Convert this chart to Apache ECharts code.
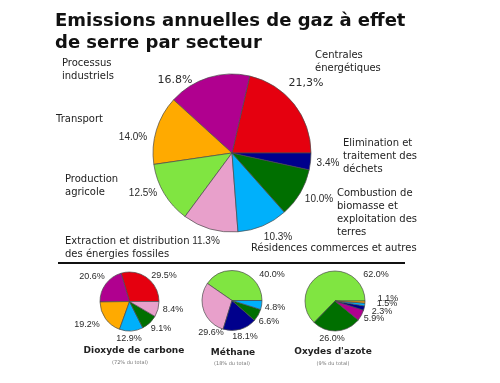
<!DOCTYPE html>
<html><head><meta charset="utf-8">
<script src="https://cdn.jsdelivr.net/npm/echarts@6.0.0/dist/echarts.min.js"></script>
<style>html,body{margin:0;padding:0;background:#fff}#c{width:500px;height:383px}</style>
</head><body><div id="c"></div>
<script>
// ---- data ----
const titleText = 'Emissions annuelles de gaz à effet\nde serre par secteur';
const sectors = ['Centrales énergétiques', 'Processus industriels', 'Transport', 'Production agricole',
  'Extraction et distribution des énergies fossiles', 'Résidences commerces et autres',
  'Combustion de biomasse et exploitation des terres', 'Elimination et traitement des déchets'];
const sectorValues = [21.3, 16.8, 14.0, 12.5, 11.3, 10.3, 10.0, 3.4];
const sectorLabels = ['21,3%', '16.8%', '14.0%', '12.5%', '11.3%', '10.3%', '10.0%', '3.4%'];
const sectorNameLines = ['Centrales\nénergétiques', 'Processus\nindustriels', 'Transport', 'Production\nagricole',
  'Extraction et distribution\ndes énergies fossiles', 'Résidences commerces et autres',
  'Combustion de\nbiomasse et\nexploitation des\nterres', 'Elimination et\ntraitement des\ndéchets'];

const co2Sectors = ['Centrales énergétiques', 'Processus industriels', 'Transport', 'Résidences commerces et autres',
  'Combustion de biomasse et exploitation des terres', 'Extraction et distribution des énergies fossiles'];
const co2Values = [29.5, 20.6, 19.2, 12.9, 9.1, 8.4];

const ch4Sectors = ['Production agricole', 'Extraction et distribution des énergies fossiles',
  'Elimination et traitement des déchets', 'Combustion de biomasse et exploitation des terres',
  'Résidences commerces et autres'];
const ch4Values = [40.0, 29.6, 18.1, 6.6, 4.8];

const n2oSectors = ['Production agricole', 'Combustion de biomasse et exploitation des terres',
  'Processus industriels', 'Elimination et traitement des déchets', 'Résidences commerces et autres', 'Transport'];
const n2oValues = [62.0, 26.0, 5.9, 2.3, 1.5, 1.1];

const gasNames = ['Dioxyde de carbone', 'Méthane', "Oxydes d'azote"];
const gasShares = ['(72% du total)', '(18% du total)', '(9% du total)'];

// ---- styles / layout ----
const sectorColors = {
  'Centrales énergétiques': '#e5000f',
  'Processus industriels': '#b0008f',
  'Transport': '#ffaa00',
  'Production agricole': '#80e541',
  'Extraction et distribution des énergies fossiles': '#e8a0cb',
  'Résidences commerces et autres': '#00b0fb',
  'Combustion de biomasse et exploitation des terres': '#006f00',
  'Elimination et traitement des déchets': '#00008c'
};
const mainLabelPos = [[306,83],[175,80],[133,137],[143,193],[206,241],[278,237],[319,199],[328,163]];
const mainNamePos = [[315,55],[62,63],[56,119],[65,179],[65,241],[251,248],[337,193],[343,143]];
const co2LabelPos = [[164,276],[92,277],[87,325],[129,339],[161,329],[173,310]];
const ch4LabelPos = [[272,275],[211,333],[245,337],[269,322],[275,308]];
const n2oLabelPos = [[376,275],[332,339],[374,319],[382,312],[387,304],[388,299]];
const gasTitlePos = [[134,351],[233,353],[333,352]];
const gasSubPos = [[130,363],[232,364],[333,364]];

const chart = echarts.init(document.getElementById('c'), null, {renderer: 'canvas'});

function fmtPct(v) { return v.toFixed(1) + '%'; }

function pieSeries(names, values, center, radius, labelPos, labelTexts, bigIdx) {
  return {
    type: 'pie',
    center: center,
    radius: radius,
    startAngle: 0,
    clockwise: false,
    avoidLabelOverlap: false,
    silent: true,
    animation: false,
    itemStyle: { borderColor: '#4a4a4a', borderWidth: 0.7 },
    labelLine: { show: false },
    label: {
      show: true,
      position: 'outside',
      color: '#2a2a2a',
      fontFamily: 'Liberation Sans',
      fontSize: radius > 50 ? 10 : 9
    },
    labelLayout: function (p) {
      const pos = labelPos[p.dataIndex];
      return { x: pos[0], y: pos[1], align: 'center', verticalAlign: 'middle' };
    },
    data: names.map(function (n, i) {
      const item = {
        name: n,
        value: values[i],
        itemStyle: { color: sectorColors[n] },
        label: { formatter: labelTexts ? labelTexts[i] : fmtPct(values[i]) }
      };
      if (bigIdx && bigIdx.indexOf(i) >= 0) {
        item.label.fontFamily = 'DejaVu Sans';
        item.label.fontSize = 11;
      }
      return item;
    })
  };
}

const graphics = [];
sectorNameLines.forEach(function (t, i) {
  graphics.push({
    type: 'text', silent: true,
    style: {
      text: t, x: mainNamePos[i][0], y: mainNamePos[i][1] - 6.5,
      fill: '#222', font: '10px "DejaVu Sans"', lineHeight: 13,
      textAlign: 'left', textVerticalAlign: 'top'
    }
  });
});
graphics.push({
  type: 'line', silent: true,
  shape: { x1: 58, y1: 263, x2: 405, y2: 263 },
  style: { stroke: '#111', lineWidth: 2 }
});
gasNames.forEach(function (t, i) {
  graphics.push({
    type: 'text', silent: true,
    style: { text: t, x: gasTitlePos[i][0], y: gasTitlePos[i][1], fill: '#222',
      font: 'bold 9px "DejaVu Sans"', textAlign: 'center', textVerticalAlign: 'middle' }
  });
  graphics.push({
    type: 'text', silent: true,
    style: { text: gasShares[i], x: gasSubPos[i][0], y: gasSubPos[i][1], fill: '#777',
      font: '5px "DejaVu Sans"', textAlign: 'center', textVerticalAlign: 'middle' }
  });
});

chart.setOption({
  backgroundColor: '#ffffff',
  animation: false,
  title: {
    text: titleText,
    left: 55, top: 10, padding: 0,
    textStyle: { fontFamily: 'DejaVu Sans', fontWeight: 'bold', fontSize: 18, lineHeight: 22, color: '#111' }
  },
  graphic: graphics,
  series: [
    pieSeries(sectors, sectorValues, [232, 153], 79, mainLabelPos, sectorLabels, [0, 1]),
    pieSeries(co2Sectors, co2Values, [129.5, 301.5], 29.5, co2LabelPos),
    pieSeries(ch4Sectors, ch4Values, [232, 300.5], 30, ch4LabelPos),
    pieSeries(n2oSectors, n2oValues, [335, 301], 30, n2oLabelPos)
  ]
});
</script>
</body></html>
